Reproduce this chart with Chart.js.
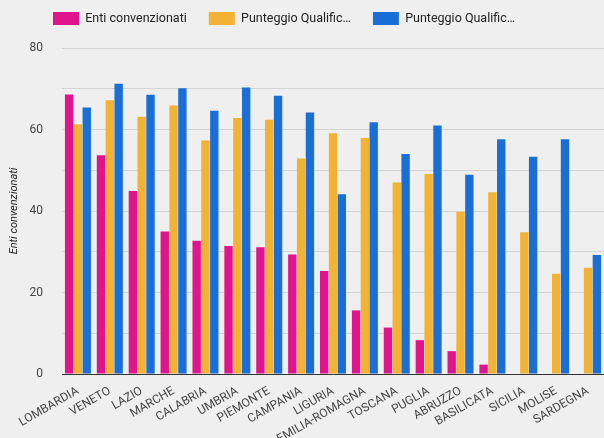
<!DOCTYPE html>
<html>
<head>
<meta charset="utf-8">
<script src="https://cdn.jsdelivr.net/npm/chart.js@4/dist/chart.umd.min.js"></script>
<style>
  html,body{margin:0;padding:0;background:#efefef;overflow:hidden;}
  #wrap{width:604px;height:438px;}
</style>
</head>
<body>
<div id="wrap"><canvas id="c" width="604" height="438"></canvas></div>
<script>
// regions (x categories)
const regions=['LOMBARDIA','VENETO','LAZIO','MARCHE','CALABRIA','UMBRIA','PIEMONTE','CAMPANIA','LIGURIA','EMILIA-ROMAGNA','TOSCANA','PUGLIA','ABRUZZO','BASILICATA','SICILIA','MOLISE','SARDEGNA'];
// series
const enti=[68.6,53.7,44.9,35.0,32.7,31.4,31.1,29.3,25.3,15.6,11.4,8.3,5.6,2.3,0,0,0];
const punteggioA=[61.3,67.2,63.1,65.9,57.3,62.8,62.4,52.9,59.1,57.9,47.0,49.1,39.8,44.6,34.8,24.6,26.1];
const punteggioB=[65.4,71.2,68.5,70.1,64.6,70.3,68.3,64.2,44.1,61.8,54.0,61.0,48.9,57.6,53.3,57.6,29.2];
const seriesNames=['Enti convenzionati','Punteggio Qualific…','Punteggio Qualific…'];
const yTicks=[0,20,40,60,80];

const PINK='#e0148c',GOLD='#f2b233',BLUE='#1a6fd6';
const LEG_PAD=22;

// legend: leave room under it and nudge it to where the original sits
const legendPos={id:'legendPos',
  beforeLayout(c){
    const lg=c.legend; if(!lg||lg._patched)return;
    const f=lg.fit.bind(lg);
    lg.fit=function(){f(); this.height=48;};
    lg._patched=true;
  },
  afterLayout(c){
    const lg=c.legend; if(!lg)return;
    const dy=(12-LEG_PAD)-lg.top, dx=53-LEG_PAD;
    lg.top+=dy; lg.bottom+=dy;
    lg.left+=dx; lg.right+=dx;
  }
};

new Chart(document.getElementById('c'),{
  type:'bar',
  data:{labels:regions,datasets:[
    {label:seriesNames[0],data:enti,backgroundColor:PINK,borderWidth:0},
    {label:seriesNames[1],data:punteggioA,backgroundColor:GOLD,borderWidth:0},
    {label:seriesNames[2],data:punteggioB,backgroundColor:BLUE,borderWidth:0}
  ]},
  options:{
    responsive:false,animation:false,
    layout:{padding:0},
    datasets:{bar:{categoryPercentage:0.83,barPercentage:0.95}},
    plugins:{
      tooltip:{enabled:false},
      legend:{display:true,position:'top',align:'start',
        labels:{boxWidth:26,boxHeight:13,padding:LEG_PAD,color:'#222',font:{family:'Roboto',size:12.5}}}
    },
    scales:{
      x:{
        grid:{display:false},
        border:{display:true,color:'#333',width:1},
        ticks:{autoSkip:false,minRotation:30,maxRotation:30,padding:2,color:'#444',font:{family:'Roboto',size:12}},
        afterFit:s=>{s.height=64;}
      },
      y:{
        min:0,max:80,
        grid:{color:'#d4d4d4',drawTicks:false},
        border:{display:false},
        ticks:{stepSize:10,padding:19,color:'#444',font:{family:'Roboto',size:12},
          callback:v=>yTicks.includes(v)?v:''},
        title:{display:true,text:'Enti convenzionati',color:'#222',padding:{top:8,bottom:4},
          font:{family:'Roboto',size:11,style:'italic'}},
        afterFit:s=>{s.width=62;}
      }
    }
  },
  plugins:[legendPos]
});
</script>
</body>
</html>
